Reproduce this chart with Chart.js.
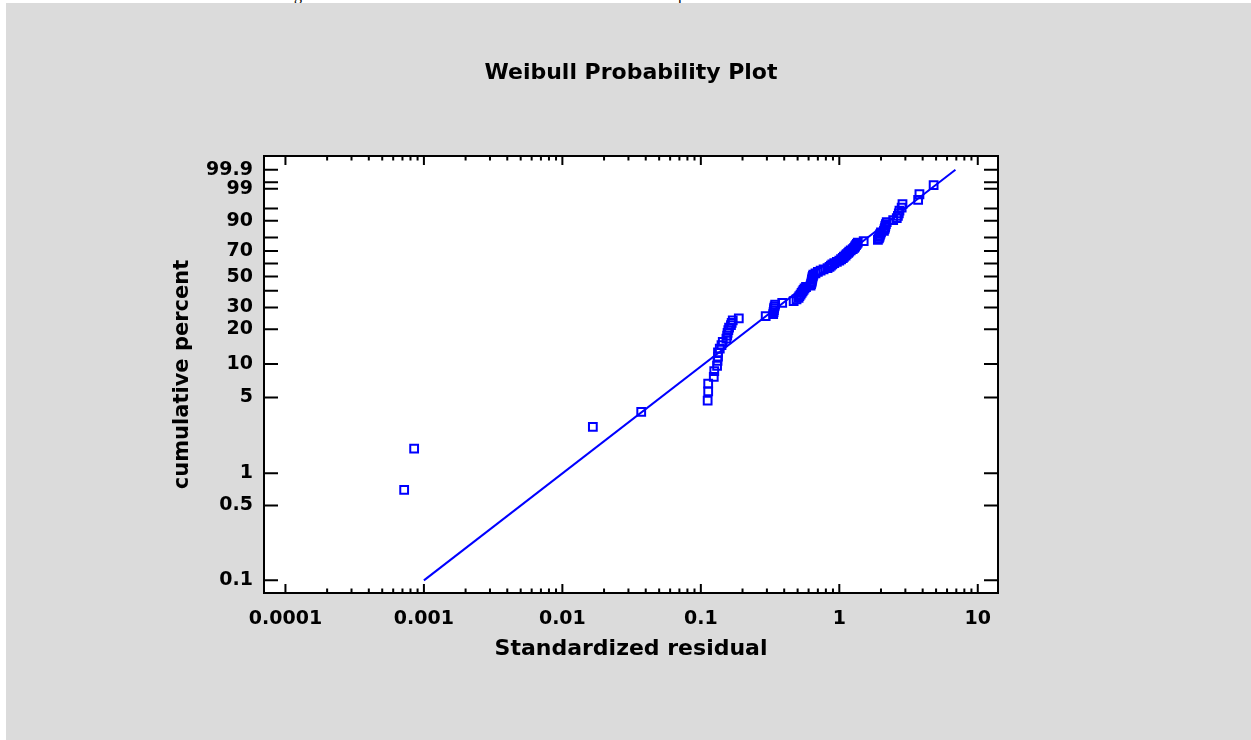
<!DOCTYPE html>
<html>
<head>
<meta charset="utf-8">
<title>Weibull Probability Plot</title>
<script src="https://cdn.jsdelivr.net/npm/chart.js@4.4.1/dist/chart.umd.min.js"></script>
<style>
  html, body { margin: 0; padding: 0; background: #fff; overflow: hidden; }
  #above { position: absolute; left: 0; top: 0; width: 1251px; height: 3px; overflow: hidden; }
  #above span { position: absolute; top: -14px; font: 16px "Liberation Serif", serif; color: #000; }
  #panel { position: absolute; left: 6px; top: 3px; width: 1245px; height: 737px; background: #dbdbdb; }
  #chart { position: absolute; left: 0; top: 0; }
</style>
</head>
<body>
<div id="above"><span style="left:294px">g</span><span style="left:678px">p</span></div>
<div id="panel"></div>
<canvas id="chart" width="1251" height="740"></canvas>
<script>
// standardized residuals (sorted) and their cumulative percent (median ranks)
const residuals = [
  0.00072, 0.00085, 0.0166, 0.0371, 0.112, 0.113, 0.113, 0.124, 0.125, 0.131,
  0.132, 0.133, 0.133, 0.137, 0.141, 0.144, 0.153, 0.155, 0.156, 0.158,
  0.160, 0.165, 0.167, 0.170, 0.188, 0.294, 0.333, 0.335, 0.337, 0.338,
  0.341, 0.344, 0.387, 0.468, 0.491, 0.508, 0.515, 0.525, 0.534, 0.543,
  0.552, 0.561, 0.575, 0.620, 0.625, 0.630, 0.632, 0.635, 0.638, 0.640,
  0.645, 0.650, 0.673, 0.700, 0.733, 0.770, 0.822, 0.85, 0.87, 0.89,
  0.92, 0.96, 1.00, 1.03, 1.06, 1.08, 1.11, 1.13, 1.16, 1.18,
  1.21, 1.25, 1.28, 1.30, 1.32, 1.34, 1.36, 1.50, 1.90, 1.93,
  1.95, 1.96, 1.98, 2.00, 2.10, 2.12, 2.14, 2.15, 2.17, 2.20,
  2.45, 2.60, 2.65, 2.69, 2.72, 2.82, 2.86, 3.71, 3.79, 4.80
];
const cumPercent = [
  0.70, 1.69, 2.69, 3.69, 4.68, 5.68, 6.67, 7.67, 8.67, 9.66,
  10.66, 11.65, 12.65, 13.65, 14.64, 15.64, 16.63, 17.63, 18.63, 19.62,
  20.62, 21.61, 22.61, 23.61, 24.60, 25.60, 26.59, 27.59, 28.59, 29.58,
  30.58, 31.57, 32.57, 33.57, 34.56, 35.56, 36.55, 37.55, 38.55, 39.54,
  40.54, 41.53, 42.53, 43.53, 44.52, 45.52, 46.51, 47.51, 48.51, 49.50,
  50.50, 51.49, 52.49, 53.49, 54.48, 55.48, 56.47, 57.47, 58.47, 59.46,
  60.46, 61.45, 62.45, 63.45, 64.44, 65.44, 66.43, 67.43, 68.43, 69.42,
  70.42, 71.41, 72.41, 73.41, 74.40, 75.40, 76.39, 77.39, 78.39, 79.38,
  80.38, 81.37, 82.37, 83.37, 84.36, 85.36, 86.35, 87.35, 88.35, 89.34,
  90.34, 91.33, 92.33, 93.33, 94.32, 95.32, 96.31, 97.31, 98.31, 99.30
];
// fitted line end points
const fitResidual = [0.001, 6.9];
const fitPercent = [0.1, 99.9];

const yTickPercents = [0.1, 0.5, 1, 5, 10, 20, 30, 40, 50, 60, 70, 80, 90, 95, 99, 99.5, 99.9];
const yLabelPercents = [0.1, 0.5, 1, 5, 10, 20, 30, 50, 70, 90, 99, 99.9];
const xTickValues = [0.0001, 0.001, 0.01, 0.1, 1, 10];
const xTickLabels = ['0.0001', '0.001', '0.01', '0.1', '1', '10'];
const minorSteps = [2, 3, 4, 5, 6, 7, 8, 9];

// weibull probability paper: ln(-ln(1-p))
function wb(p) {
  return Math.log(-Math.log(1 - p / 100));
}

const FONT = 'DejaVu Sans';
const BLUE = '#0000ff';

// white plot area, black frame and inward tick marks
const frame = {
  id: 'frame',
  beforeDraw(chart) {
    const { ctx, chartArea: a } = chart;
    ctx.save();
    ctx.fillStyle = '#fff';
    ctx.fillRect(a.left, a.top, a.right - a.left, a.bottom - a.top);
    ctx.restore();
  },
  afterDraw(chart) {
    const { ctx, chartArea: a } = chart;
    const xs = chart.scales.x;
    const ys = chart.scales.y;
    ctx.save();
    ctx.strokeStyle = '#000';
    ctx.lineWidth = 2;
    ctx.beginPath();
    xTickValues.forEach(d => {
      const px = xs.getPixelForValue(d);
      ctx.moveTo(px, a.bottom); ctx.lineTo(px, a.bottom - 9);
      ctx.moveTo(px, a.top); ctx.lineTo(px, a.top + 9);
      minorSteps.forEach(k => {
        const v = d * k;
        if (v > xs.max) return;
        const p = xs.getPixelForValue(v);
        ctx.moveTo(p, a.bottom); ctx.lineTo(p, a.bottom - 4.5);
        ctx.moveTo(p, a.top); ctx.lineTo(p, a.top + 4.5);
      });
    });
    ys.ticks.forEach(t => {
      const py = ys.getPixelForValue(t.value);
      ctx.moveTo(a.left, py); ctx.lineTo(a.left + 14, py);
      ctx.moveTo(a.right, py); ctx.lineTo(a.right - 14, py);
    });
    ctx.stroke();
    ctx.strokeRect(a.left, a.top, a.right - a.left, a.bottom - a.top);
    ctx.restore();
  }
};

const points = residuals.map((r, i) => ({ x: r, y: wb(cumPercent[i]) }));
const fitLine = fitResidual.map((r, i) => ({ x: r, y: wb(fitPercent[i]) }));

new Chart(document.getElementById('chart'), {
  type: 'scatter',
  data: {
    datasets: [
      {
        data: points,
        pointStyle: 'rect',
        pointRadius: 5.5,
        pointBorderWidth: 2,
        borderColor: BLUE,
        backgroundColor: 'rgba(0,0,0,0)'
      },
      {
        data: fitLine,
        showLine: true,
        pointRadius: 0,
        borderColor: BLUE,
        borderWidth: 2
      }
    ]
  },
  options: {
    responsive: false,
    animation: false,
    layout: { padding: { left: 11, right: 0, top: 0, bottom: 0 } },
    plugins: {
      legend: { display: false },
      tooltip: { enabled: false },
      title: {
        display: true,
        text: 'Weibull Probability Plot',
        color: '#000',
        font: { family: FONT, size: 22, weight: 'bold' },
        padding: { top: 59.8, bottom: 69.8 }
      }
    },
    scales: {
      x: {
        type: 'logarithmic',
        min: 0.000072,
        max: 14,
        grid: { display: false, drawTicks: false },
        border: { display: false },
        afterBuildTicks: s => { s.ticks = xTickValues.map(v => ({ value: v })); },
        afterFit: s => { s.height = 147; },
        ticks: {
          autoSkip: false,
          maxRotation: 0,
          padding: 15,
          color: '#000',
          font: { family: FONT, size: 19, weight: 'bold' },
          callback: (v, i) => xTickLabels[i]
        },
        title: {
          display: true,
          text: 'Standardized residual',
          color: '#000',
          font: { family: FONT, size: 22, weight: 'bold' },
          padding: { top: 0, bottom: 77.8 }
        }
      },
      y: {
        type: 'linear',
        min: -7.18,
        max: 2.23,
        grid: { display: false, drawTicks: false },
        border: { display: false },
        afterBuildTicks: s => { s.ticks = yTickPercents.map(p => ({ value: wb(p) })); },
        afterFit: s => { s.width = 253; },
        ticks: {
          autoSkip: false,
          padding: 11,
          color: '#000',
          font: { family: FONT, size: 19, weight: 'bold' },
          callback: (v, i) => {
            const p = yTickPercents[i];
            return yLabelPercents.includes(p) ? String(p) : '';
          }
        },
        title: {
          display: true,
          text: 'cumulative percent',
          color: '#000',
          font: { family: FONT, size: 21, weight: 'bold' },
          padding: { top: 159.4, bottom: 0 }
        }
      },
      y2: {
        type: 'linear',
        position: 'right',
        display: true,
        min: -7.18,
        max: 2.23,
        grid: { display: false, drawTicks: false },
        border: { display: false },
        ticks: { display: false },
        afterFit: s => { s.width = 253; }
      }
    }
  },
  plugins: [frame]
});
</script>
</body>
</html>
